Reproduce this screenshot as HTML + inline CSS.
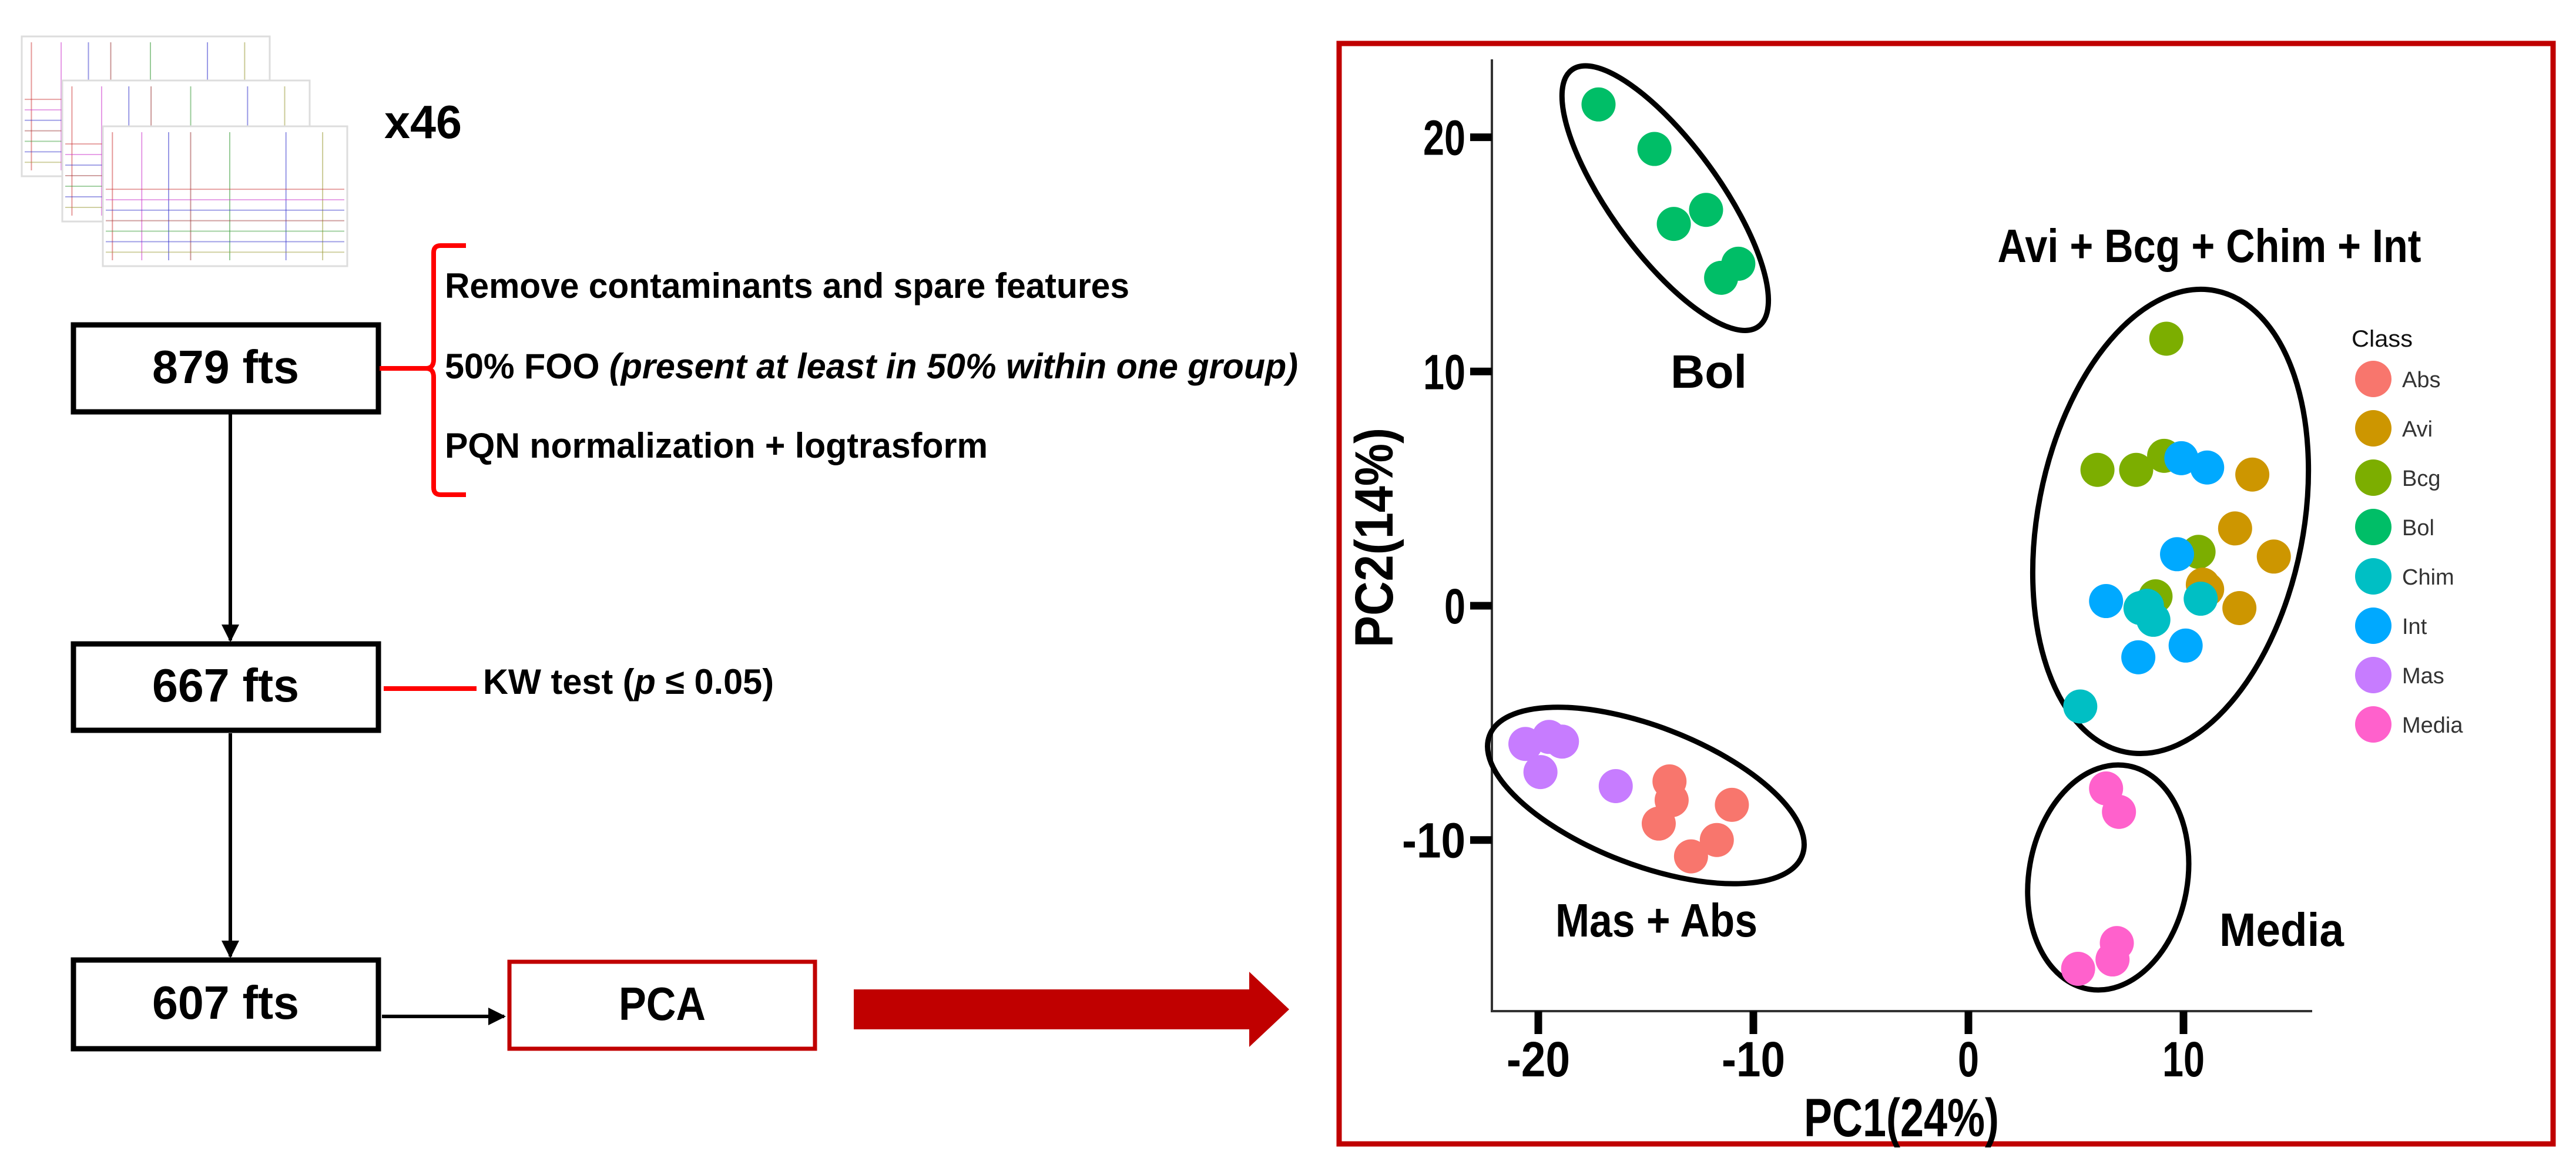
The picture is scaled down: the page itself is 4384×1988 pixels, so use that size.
<!DOCTYPE html>
<html><head><meta charset="utf-8">
<style>
html,body{margin:0;padding:0;background:#fff;}
svg{display:block;}
text{font-family:"Liberation Sans",sans-serif;}
</style></head>
<body>
<svg id="root" width="4384" height="1988" viewBox="0 0 4384 1988" xmlns="http://www.w3.org/2000/svg">
<defs>
<marker id="ah" viewBox="0 0 10 10" refX="9" refY="5" markerWidth="5" markerHeight="5" orient="auto"><path d="M0,0 L10,5 L0,10 z" fill="#000"/></marker>
</defs>

<g id="thumbs"></g>
<text x="654" y="235" font-size="80" font-weight="bold" textLength="132" lengthAdjust="spacingAndGlyphs">x46</text>

<g>
<rect x="125" y="553" width="519" height="148" fill="#fff" stroke="#000" stroke-width="9"/>
<text x="384" y="652" font-size="80" font-weight="bold" text-anchor="middle" textLength="250" lengthAdjust="spacingAndGlyphs">879 fts</text>
</g>
<g>
<rect x="125" y="1096" width="519" height="147" fill="#fff" stroke="#000" stroke-width="9"/>
<text x="384" y="1194" font-size="80" font-weight="bold" text-anchor="middle" textLength="250" lengthAdjust="spacingAndGlyphs">667 fts</text>
</g>
<g>
<rect x="125" y="1634" width="519" height="151" fill="#fff" stroke="#000" stroke-width="9"/>
<text x="384" y="1734" font-size="80" font-weight="bold" text-anchor="middle" textLength="250" lengthAdjust="spacingAndGlyphs">607 fts</text>
</g>
<g>
<rect x="867" y="1637" width="520" height="148" fill="#fff" stroke="#C00000" stroke-width="7"/>
<text x="1127" y="1736" font-size="80" font-weight="bold" text-anchor="middle" textLength="148" lengthAdjust="spacingAndGlyphs">PCA</text>
</g>

<line x1="392" y1="705" x2="392" y2="1090" stroke="#000" stroke-width="6" marker-end="url(#ah)"/>
<line x1="392" y1="1248" x2="392" y2="1628" stroke="#000" stroke-width="6" marker-end="url(#ah)"/>
<line x1="650" y1="1730" x2="858" y2="1730" stroke="#000" stroke-width="6" marker-end="url(#ah)"/>
<polygon points="1453,1684 2126,1684 2126,1654 2194,1718 2126,1782 2126,1752 1453,1752" fill="#C00000"/>

<path d="M793,418 L750,418 Q738,418 738,430 L738,612 Q738,627 725,627 L646,627 M725,627 Q738,627 738,642 L738,830 Q738,842 750,842 L793,842" fill="none" stroke="#FF0000" stroke-width="8"/>
<text x="757" y="507" font-size="60" font-weight="bold" textLength="1165" lengthAdjust="spacingAndGlyphs">Remove contaminants and spare features</text>
<text x="757" y="644" font-size="60" font-weight="bold" textLength="1452" lengthAdjust="spacingAndGlyphs">50% FOO <tspan font-style="italic">(present at least in 50% within one group)</tspan></text>
<text x="757" y="779" font-size="60" font-weight="bold" textLength="924" lengthAdjust="spacingAndGlyphs">PQN normalization + logtrasform</text>
<line x1="653" y1="1172" x2="811" y2="1172" stroke="#FF0000" stroke-width="8"/>
<text x="822" y="1181" font-size="60" font-weight="bold" textLength="495" lengthAdjust="spacingAndGlyphs">KW test (<tspan font-style="italic">p</tspan> ≤ 0.05)</text>

<rect x="2279" y="74" width="2066" height="1873" fill="none" stroke="#C00000" stroke-width="9" id="frame"/>
<g id="chart"></g>
</svg>

<script>
// ---- data ----
const classes = ["Abs","Avi","Bcg","Bol","Chim","Int","Mas","Media"];
const colors = ["#F8766D","#CD9600","#7CAE00","#00BE67","#00BFC4","#00A9FF","#C77CFF","#FF61CC"];
const absX = [-13.9,-13.8,-14.4,-11.0,-11.7,-12.9];
const absY = [-7.5,-8.3,-9.3,-8.5,-10.0,-10.7];
const aviX = [13.2,12.4,14.2,11.1,12.6,10.9];
const aviY = [5.6,3.3,2.1,0.7,-0.1,0.9];
const bcgX = [9.2,6.0,7.8,9.1,10.7,8.7];
const bcgY = [11.4,5.8,5.8,6.4,2.3,0.4];
const bolX = [-17.2,-14.6,-13.7,-12.2,-11.5,-10.7];
const bolY = [21.4,19.5,16.3,16.9,14.0,14.6];
const chimX = [8.0,8.6,10.8,5.2,8.3];
const chimY = [-0.1,-0.6,0.3,-4.3,0.0];
const intX = [9.9,11.1,9.7,6.4,7.9,10.1];
const intY = [6.3,5.9,2.2,0.2,-2.2,-1.7];
const masX = [-20.6,-18.9,-19.5,-19.9,-16.4];
const masY = [-5.9,-5.8,-5.6,-7.1,-7.7];
const mediaX = [6.4,7.0,6.9,6.7,5.1];
const mediaY = [-7.8,-8.8,-14.4,-15.1,-15.5];
const xTicks = [-20,-10,0,10];
const yTicks = [20,10,0,-10];
const xTickLabels = ["-20","-10","0","10"];
const yTickLabels = ["20","10","0","-10"];
const ellNames = ["Bol","Avi + Bcg + Chim + Int","Mas + Abs","Media"];
const ellCx = [-14.1,9.4,-15.0,6.5];
const ellCy = [17.4,3.6,-8.1,-11.6];

// ---- scales ----
const X0 = 3350, XU = 36.6, Y0 = 1031, YU = 39.87;
const sx = v => X0 + v * XU;
const sy = v => Y0 - v * YU;
const NS = "http://www.w3.org/2000/svg";
const chart = document.getElementById("chart");
function mk(tag, attrs, parent) {
  const e = document.createElementNS(NS, tag);
  for (const k in attrs) e.setAttribute(k, attrs[k]);
  (parent || chart).appendChild(e);
  return e;
}

const ax = mk("line", {x1:2539,y1:101,x2:2539,y2:1721,stroke:"#333","stroke-width":4});


const axx = mk("line", {x1:2537,y1:1721,x2:3935,y2:1721,stroke:"#333","stroke-width":4});



xTicks.forEach((t, i) => {
  const tk = mk("line", {x1:sx(t),y1:1721,x2:sx(t),y2:1760,stroke:"#000","stroke-width":13});
  
  
  const lb = mk("text", {x:sx(t),y:1832,"font-size":84,"font-weight":"bold","text-anchor":"middle",textLength: xTickLabels[i].length*36,lengthAdjust:"spacingAndGlyphs"});
  lb.textContent = xTickLabels[i];
  
  
});
yTicks.forEach((t, i) => {
  const tk = mk("line", {x1:2502,y1:sy(t),x2:2539,y2:sy(t),stroke:"#000","stroke-width":13});
  
  
  const lb = mk("text", {x:2494,y:sy(t)+30,"font-size":84,"font-weight":"bold","text-anchor":"end",textLength: yTickLabels[i].length*36,lengthAdjust:"spacingAndGlyphs"});
  lb.textContent = yTickLabels[i];
  
  
});
const xt = mk("text", {x:3236,y:1934,"font-size":92,"font-weight":"bold","text-anchor":"middle",textLength:332,lengthAdjust:"spacingAndGlyphs"});
xt.textContent = "PC1(24%)";


const yt = mk("text", {x:0,y:0,"font-size":92,"font-weight":"bold","text-anchor":"middle",textLength:374,lengthAdjust:"spacingAndGlyphs",transform:"translate(2370,915) rotate(-90)"});
yt.textContent = "PC2(14%)";



const ellRx = [270,400,285,193];
const ellRy = [93,226,118,135];
const ellRot = [54,-79,21,-80];
ellNames.forEach((n, i) => {
  const e = mk("ellipse", {cx:sx(ellCx[i]),cy:sy(ellCy[i]),rx:ellRx[i],ry:ellRy[i],fill:"none",stroke:"#000","stroke-width":9,
    transform:`rotate(${ellRot[i]} ${sx(ellCx[i])} ${sy(ellCy[i])})`});
  
  
});

const allX = [absX,aviX,bcgX,bolX,chimX,intX,masX,mediaX];
const allY = [absY,aviY,bcgY,bolY,chimY,intY,masY,mediaY];
const order = [6,0,7,3,2,1,5,4];
order.forEach(ci => {
  allX[ci].forEach((v, j) => {
    const c = mk("circle", {cx:sx(v),cy:sy(allY[ci][j]),r:29,fill:colors[ci]});
    
    
  });
});

const lab = [["Bol",2908,660,130],["Avi + Bcg + Chim + Int",3760,446,721],["Mas + Abs",2819,1594,344],["Media",3883,1610,212]];
lab.forEach(l => {
  const t = mk("text", {x:l[1],y:l[2],"font-size":80,"font-weight":"bold","text-anchor":"middle",textLength:l[3],lengthAdjust:"spacingAndGlyphs"});
  t.textContent = l[0];
  
  
});

const lt = mk("text", {x:4002,y:590,"font-size":40,fill:"#111",textLength:104,lengthAdjust:"spacingAndGlyphs"});
lt.textContent = "Class";


classes.forEach((c, i) => {
  const y = 645 + i * 84;
  const d = mk("circle", {cx:4039,cy:y,r:31,fill:colors[i]});
  
  
  const t = mk("text", {x:4088,y:y+14,"font-size":38,fill:"#333"});
  t.textContent = c;
  
  
});

const th = document.getElementById("thumbs");
const frames = [[37,62,422,238],[106,137,421,240],[175,215,416,238]];
const lc = ["#c33","#c3c","#33c","#933","#393","#33c","#993"];
frames.forEach((f, k) => {
  const r = mk("rect", {x:f[0],y:f[1],width:f[2],height:f[3],fill:"#fff",stroke:"#ddd","stroke-width":3}, th);
  
  
  const peaks = [0.02,0.14,0.25,0.34,0.5,0.73,0.88];
  peaks.forEach((p, j) => {
    mk("line", {x1:f[0]+f[2]*p+8,y1:f[1]+10,x2:f[0]+f[2]*p+8,y2:f[1]+f[3]-10,stroke:lc[j%lc.length],"stroke-width":2,opacity:0.5}, th);
  });
  for (let j = 0; j < 7; j++) {
    const yy = f[1] + f[3]*0.45 + j*f[3]*0.075;
    mk("line", {x1:f[0]+5,y1:yy,x2:f[0]+f[2]-5,y2:yy,stroke:lc[j],"stroke-width":2,opacity:0.45}, th);
  }
});
</script>
</body></html>
